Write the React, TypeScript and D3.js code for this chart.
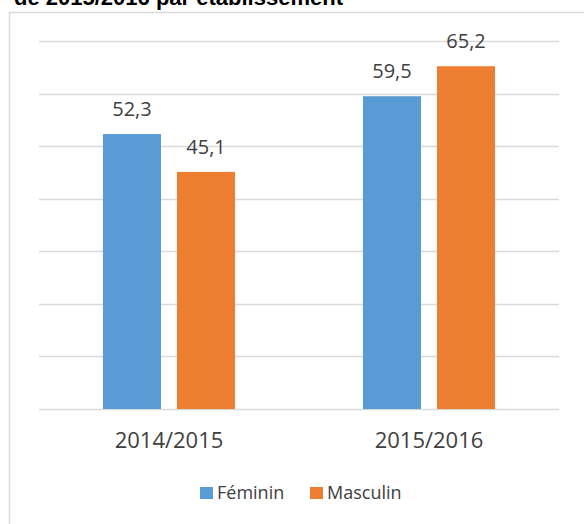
import React from "react";
import * as d3 from "d3";

const categories = ["2014/2015", "2015/2016"];
const seriesNames = ["Féminin", "Masculin"];
const feminin = [52.3, 59.5];
const masculin = [45.1, 65.2];
const colors = ["#5B9BD5", "#ED7D31"];
const yTicks = [0, 10, 20, 30, 40, 50, 60, 70];
// the title is cut by the top edge, as in the source picture
const title = "de 2015/2016 par établissement";

const W = 584;
const H = 524;
const textColor = "#404040";
const font = "'Open Sans', 'Noto Sans', sans-serif";

export default function App() {
  const seriesValues = [feminin, masculin];
  const fmt = (v: number) => d3.format(".1f")(v).replace(".", ",");

  const x0 = d3
    .scaleBand<string>()
    .domain(categories)
    .range([39, 559])
    .paddingInner(0.492)
    .paddingOuter(0.246);

  const x1 = d3
    .scaleBand<string>()
    .domain(seriesNames)
    .range([0, x0.bandwidth()])
    .paddingInner(16 / 74)
    .paddingOuter(0);

  const y = d3.scaleLinear().domain([0, 70]).range([409, 41]);

  return (
    <svg
      width={W}
      height={H}
      style={{ position: "absolute", left: 0, top: 0, background: "#fff" }}
    >
      <rect x={0} y={0} width={W} height={H} fill="#fff" />
      <text
        x={343}
        y={5}
        textAnchor="end"
        fontFamily="'Liberation Sans', Arial, sans-serif"
        fontWeight="bold"
        fontSize={22}
        fill="#000"
      >
        {title}
      </text>
      <rect
        x={9.5}
        y={12.5}
        width={W + 20}
        height={H + 20}
        fill="none"
        stroke="#d9d9d9"
        strokeWidth={1.5}
      />
      {yTicks.map((t) => (
        <line
          key={t}
          x1={39}
          x2={559}
          y1={Math.round(y(t)) + 0.5}
          y2={Math.round(y(t)) + 0.5}
          stroke="#d9d9d9"
          strokeWidth={1.5}
        />
      ))}
      {categories.map((c, ci) => (
        <g key={c} transform={`translate(${x0(c)},0)`}>
          {seriesNames.map((s, si) => {
            const v = seriesValues[si][ci];
            const bx = x1(s) as number;
            return (
              <g key={s}>
                <rect
                  x={bx}
                  y={y(v)}
                  width={x1.bandwidth()}
                  height={y(0) - y(v)}
                  fill={colors[si]}
                />
                <text
                  x={bx + x1.bandwidth() / 2}
                  y={y(v) - 18}
                  textAnchor="middle"
                  fontFamily={font}
                  fontSize={20}
                  fill={textColor}
                >
                  {fmt(v)}
                </text>
              </g>
            );
          })}
          <text
            x={x0.bandwidth() / 2}
            y={448}
            textAnchor="middle"
            fontFamily={font}
            fontSize={22}
            fill={textColor}
          >
            {c}
          </text>
        </g>
      ))}
      {seriesNames.map((s, i) => {
        const lx = [200, 310][i];
        return (
          <g key={s}>
            <rect x={lx} y={487} width={13} height={12} fill={colors[i]} />
            <text
              x={lx + 17}
              y={499}
              fontFamily={font}
              fontSize={18}
              fill={textColor}
            >
              {s}
            </text>
          </g>
        );
      })}
    </svg>
  );
}
